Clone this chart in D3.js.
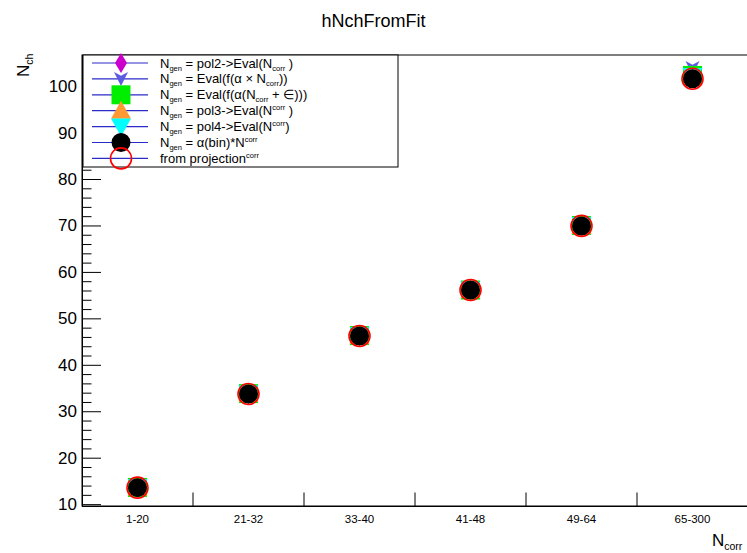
<!DOCTYPE html>
<html><head><meta charset="utf-8">
<script src="https://cdn.jsdelivr.net/npm/d3@7"></script>
<style>body{margin:0;background:#fff}svg{display:block}text{font-family:"Liberation Sans",Arial,sans-serif}</style>
</head><body><svg id="c" width="747" height="553"></svg>
<script>
const categories = ["1-20","21-32","33-40","41-48","49-64","65-300"];
const pol2Vals   = [13.6, 33.7, 46.2, 56.1, 69.9, 102.0];
const evalAVals  = [13.6, 33.8, 46.3, 56.1, 70.0, 103.9];
const evalEVals  = [13.6, 33.8, 46.3, 56.1, 70.0, 102.3];
const pol3Vals   = [13.6, 33.7, 46.2, 56.1, 69.9, 101.9];
const pol4Vals   = [13.7, 33.9, 46.4, 56.2, 70.1, 102.2];
const alphaVals  = [13.55, 33.7, 46.2, 56.1, 69.9, 101.6];
const projVals   = [13.55, 33.7, 46.2, 56.1, 69.9, 101.6];
const yTicks = [10,20,30,40,50,60,70,80,90,100];
const titleText = "hNchFromFit";

const svg = d3.select("#c");
const L=82, R=748, T=55, B=506;
const x = d3.scaleBand().domain(categories).range([L,R]).padding(0);
const y = d3.scaleLinear().domain([9.6,106.7]).range([B,T]);

// frame
svg.append("rect").attr("x",L).attr("y",T).attr("width",R-L).attr("height",B-T)
  .attr("fill","none").attr("stroke","#000").attr("stroke-width",1);

// y axis
const minor = d3.range(10,107,2).filter(v=>v%10!==0);
const gyMinor = svg.append("g").attr("transform",`translate(${L},0)`)
  .call(d3.axisLeft(y).tickValues(minor).tickSize(-9.5).tickFormat(""));
const gy = svg.append("g").attr("transform",`translate(${L},0)`)
  .call(d3.axisLeft(y).tickValues(yTicks).tickSize(-19).tickPadding(5).tickFormat(d3.format("d")));
[gy,gyMinor].forEach(g=>{g.select(".domain").attr("stroke","#000");g.selectAll(".tick line").attr("stroke","#000");});
gy.selectAll(".tick text").attr("font-size","17px").attr("fill","#000").attr("font-family","Liberation Sans, Arial, sans-serif");

// x axis
const gx = svg.append("g").attr("transform",`translate(0,${B})`)
  .call(d3.axisBottom(x).tickSize(0).tickPadding(9));
gx.select(".domain").attr("stroke","#000");
gx.selectAll(".tick text").attr("font-size","11.5px").attr("fill","#000").attr("font-family","Liberation Sans, Arial, sans-serif");
svg.append("g").selectAll("line").data(categories.slice(1)).join("line")
  .attr("x1",d=>x(d)).attr("x2",d=>x(d)).attr("y1",B).attr("y2",B-13.5)
  .attr("stroke","#000");

// markers
const shapes = {
  diamond: s=>`M0,${-s}L${s*0.6},0L0,${s}L${-s*0.6},0Z`,
  star: s=>`M${-s},${-s}L0,${-s*0.45}L${s},${-s}L0,${s}Z`,
  square: s=>`M${-s},${-s}H${s}V${s}H${-s}Z`,
  tup: s=>`M0,${-s}L${s},${s*0.8}L${-s},${s*0.8}Z`,
  tdown: s=>`M0,${s}L${s},${-s*0.8}L${-s},${-s*0.8}Z`
};
const series = [
  {name:"pol2", vals:pol2Vals, kind:"diamond", size:10, fill:"#cc00cc"},
  {name:"evalA", vals:evalAVals, kind:"star", size:7, fill:"#5c5ce0"},
  {name:"evalE", vals:evalEVals, kind:"square", size:9.5, fill:"#00ee00"},
  {name:"pol3", vals:pol3Vals, kind:"tup", size:10, fill:"#ff9933"},
  {name:"pol4", vals:pol4Vals, kind:"tdown", size:10, fill:"#00ffff"},
  {name:"alpha", vals:alphaVals, kind:"circle", size:9.5, fill:"#000"},
  {name:"proj", vals:projVals, kind:"ocircle", size:10.5, fill:"none"}
];
function drawMarker(g, s, cx, cy){
  if(s.kind==="circle") g.append("circle").attr("cx",cx).attr("cy",cy).attr("r",s.size).attr("fill",s.fill);
  else if(s.kind==="ocircle") g.append("circle").attr("cx",cx).attr("cy",cy).attr("r",s.size).attr("fill","none").attr("stroke","#ff0000").attr("stroke-width",1.6);
  else g.append("path").attr("d",shapes[s.kind](s.size)).attr("transform",`translate(${cx},${cy})`).attr("fill",s.fill);
}
const gm = svg.append("g");
series.forEach(s=>{
  s.vals.forEach((v,i)=>drawMarker(gm, s, x(categories[i])+x.bandwidth()/2, y(v)));
});

// legend
const lg = svg.append("g");
lg.append("rect").attr("x",83).attr("y",T).attr("width",315).attr("height",112)
  .attr("fill","#fff").attr("stroke","#000").attr("stroke-width",1);
const rowY = i => 63 + i*15.9;
const labels = [
  [["N"],["gen","sub"],[" = pol2->Eval(N"],["corr","sub"],["  )"]],
  [["N"],["gen","sub"],[" = Eval(f(α × N"],["corr","sub"],["))"]],
  [["N"],["gen","sub"],[" = Eval(f(α(N"],["corr","sub"],["  + ∈)))"]],
  [["N"],["gen","sub"],[" = pol3->Eval(N"],["corr","sup"],["  )"]],
  [["N"],["gen","sub"],[" = pol4->Eval(N"],["corr","sup"],[")"]],
  [["N"],["gen","sub"],[" = α(bin)*N"],["corr","sup"]],
  [["from projection"],["corr","sup"]]
];
const shifts = {sub:3, sup:-5};
series.forEach((s,i)=>{
  const cy = rowY(i);
  lg.append("line").attr("x1",92).attr("x2",148).attr("y1",cy).attr("y2",cy).attr("stroke","#2a2ac8").attr("stroke-width",1.2);
  drawMarker(lg, s, 121, cy);
  const t = lg.append("text").attr("x",160).attr("y",cy+4.5).attr("font-size","13px").attr("fill","#000");
  let cur = 0;
  labels[i].forEach(([txt,st])=>{
    const sp = t.append("tspan").text(txt);
    if(st){
      const sh = shifts[st];
      sp.attr("font-size","7.5px").attr("dy",sh-cur); cur = sh;
    } else if(cur!==0){ sp.attr("dy",-cur); cur=0; }
  });
});

// title
svg.append("text").attr("x",373.5).attr("y",27).attr("text-anchor","middle").attr("font-size","18px").text(titleText);

// axis titles
const yt = svg.append("text").attr("transform","translate(29,77) rotate(-90)").attr("font-size","17px");
yt.append("tspan").text("N"); yt.append("tspan").attr("font-size","10.5px").attr("dy",4).text("ch");
const xt = svg.append("text").attr("x",712).attr("y",546).attr("font-size","17px");
xt.append("tspan").text("N"); xt.append("tspan").attr("font-size","10.5px").attr("dy",4).text("corr");
</script></body></html>
